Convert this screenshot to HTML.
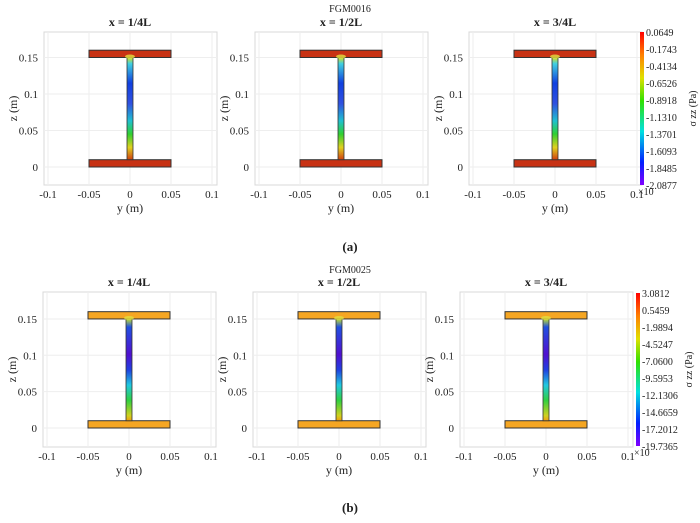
<!DOCTYPE html>
<html><head><meta charset="utf-8"><style>
body{margin:0;background:#fff;}
svg text{font-family:"Liberation Serif",serif;fill:#222;}
</style></head><body>
<svg id="s" width="700" height="518" xmlns="http://www.w3.org/2000/svg">
<defs>
<linearGradient id="webA" x1="0" y1="0" x2="0" y2="1">
<stop offset="0" stop-color="#d8e020"/><stop offset="0.06" stop-color="#40d0e0"/>
<stop offset="0.25" stop-color="#1040e0"/><stop offset="0.45" stop-color="#3050e0"/>
<stop offset="0.62" stop-color="#20c0d0"/><stop offset="0.75" stop-color="#30d030"/>
<stop offset="0.88" stop-color="#e0d020"/><stop offset="1" stop-color="#d04010"/>
</linearGradient>
<linearGradient id="webB" x1="0" y1="0" x2="0" y2="1">
<stop offset="0" stop-color="#c0e030"/><stop offset="0.08" stop-color="#2050e0"/>
<stop offset="0.35" stop-color="#5010d0"/><stop offset="0.5" stop-color="#2040e0"/>
<stop offset="0.65" stop-color="#20c8e0"/><stop offset="0.8" stop-color="#30d040"/>
<stop offset="0.95" stop-color="#d0d020"/><stop offset="1" stop-color="#f0a010"/>
</linearGradient>
<linearGradient id="cb" x1="0" y1="0" x2="0" y2="1">
<stop offset="0" stop-color="#ff0000"/><stop offset="0.15" stop-color="#ff8000"/>
<stop offset="0.3" stop-color="#e0e000"/><stop offset="0.45" stop-color="#30e000"/>
<stop offset="0.65" stop-color="#00e0e0"/><stop offset="0.85" stop-color="#0020ff"/>
<stop offset="1" stop-color="#8000ff"/>
</linearGradient>
</defs>
</svg>
<script>
const s=document.getElementById('s');let h='';
function T(x,y,t,o){o=o||{};h+=`<text x="${x}" y="${y}" font-size="${o.fs||11}" text-anchor="${o.a||'middle'}" ${o.b?'font-weight="bold"':''} ${o.tr?`transform="${o.tr}"`:''}>${t}</text>`;}
function panel(x0,z0,sc,top,bot,title,web,fl){
  const L=x0-86,R=x0+87;
  h+=`<rect x="${L}" y="${top}" width="${R-L}" height="${bot-top}" fill="#fff" stroke="#d8d8d8" stroke-width="1"/>`;
  const xs=[-0.1,-0.05,0,0.05,0.1];
  xs.forEach(v=>{const px=x0+v*820;h+=`<line x1="${px}" y1="${top}" x2="${px}" y2="${bot}" stroke="#eee"/>`;T(px,bot+13,v==0?'0':v,{});});
  [0,0.05,0.1,0.15].forEach(v=>{const py=z0-v*sc;h+=`<line x1="${L}" y1="${py}" x2="${R}" y2="${py}" stroke="#eee"/>`;T(L-6,py+4,v==0?'0':v,{a:'end'});});
  T(x0,bot+27,'y (m)',{fs:12});
  T(L-27,(top+bot)/2,'z (m)',{fs:12,tr:`rotate(-90 ${L-27} ${(top+bot)/2})`});
  T(x0,top-6,title,{fs:12,b:1});
  const fw=0.05*820, th=0.01*sc;
  const ft=z0-0.16*sc, fb=z0-0.01*sc;
  h+=`<rect x="${x0-fw}" y="${ft}" width="${2*fw}" height="${th}" fill="${fl}" stroke="#333" stroke-width="1"/>`;
  h+=`<rect x="${x0-fw}" y="${fb}" width="${2*fw}" height="${th}" fill="${fl}" stroke="#333" stroke-width="1"/>`;
  h+=`<rect x="${x0-3}" y="${ft+th}" width="6" height="${fb-ft-th}" fill="url(#${web})" stroke="#333" stroke-width="0.8"/>`;
  h+=`<ellipse cx="${x0}" cy="${ft+th-1}" rx="5" ry="2" fill="#e0e040" opacity="0.8"/>`;
}
[130,341,555].forEach((x,i)=>panel(x,167,730,32,185,['x = 1/4L','x = 1/2L','x = 3/4L'][i],'webA','#c83214'));
[129,339,546].forEach((x,i)=>panel(x,428,727,292,447,['x = 1/4L','x = 1/2L','x = 3/4L'][i],'webB','#f5a623'));
T(350,12,'FGM0016',{fs:10});T(350,273,'FGM0025',{fs:10});
T(350,251,'(a)',{fs:13,b:1});T(350,512,'(b)',{fs:13,b:1});
function cbar(x,top,bot,labs,xl){
  h+=`<rect x="${x}" y="${top}" width="4" height="${bot-top}" fill="url(#cb)"/>`;
  labs.forEach((l,i)=>{const y=top+(bot-top)*i/(labs.length-1);T(x+6,y+4,l,{fs:10,a:'start'});});
  T(x-2,bot+10,'×10',{fs:10,a:'start'});
  const cy=(top+bot)/2;T(x+56,cy,'σ zz (Pa)',{fs:10,tr:`rotate(-90 ${x+56} ${cy})`});
}
cbar(640,32,185,['0.0649','-0.1743','-0.4134','-0.6526','-0.8918','-1.1310','-1.3701','-1.6093','-1.8485','-2.0877']);
cbar(636,293,446,['3.0812','0.5459','-1.9894','-4.5247','-7.0600','-9.5953','-12.1306','-14.6659','-17.2012','-19.7365']);
s.insertAdjacentHTML('beforeend',h);
</script>
</body></html>
